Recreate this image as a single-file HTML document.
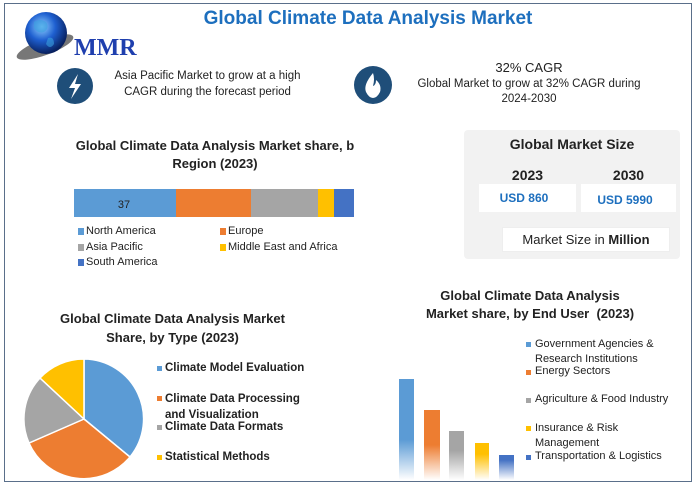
<!DOCTYPE html>
<html><head><meta charset="utf-8"><style>
body{margin:0;background:#fff;}
#c{position:relative;width:693px;height:494px;overflow:hidden;font-family:"Liberation Sans",sans-serif;color:#222;}
.a{position:absolute;}
.t{white-space:nowrap;}
</style></head><body><div id="c">
<div class="a" style="left:4px;top:3px;width:686px;height:477px;border:1px solid #5a6f8a;"></div>
<svg class="a" style="left:0;top:0" width="693" height="494">
<defs>
<radialGradient id="g" cx="40%" cy="35%" r="65%"><stop offset="0" stop-color="#8fd0ff"/><stop offset="0.5" stop-color="#1e5fd0"/><stop offset="1" stop-color="#08205e"/></radialGradient>
<linearGradient id="b1" x1="0" y1="0" x2="0" y2="1"><stop offset="0.6" stop-color="#5b9bd5"/><stop offset="1" stop-color="#fff"/></linearGradient>
<linearGradient id="b2" x1="0" y1="0" x2="0" y2="1"><stop offset="0.5" stop-color="#ed7d31"/><stop offset="1" stop-color="#fff"/></linearGradient>
<linearGradient id="b3" x1="0" y1="0" x2="0" y2="1"><stop offset="0.4" stop-color="#a5a5a5"/><stop offset="1" stop-color="#fff"/></linearGradient>
<linearGradient id="b4" x1="0" y1="0" x2="0" y2="1"><stop offset="0.3" stop-color="#ffc000"/><stop offset="1" stop-color="#fff"/></linearGradient>
<linearGradient id="b5" x1="0" y1="0" x2="0" y2="1"><stop offset="0.2" stop-color="#4472c4"/><stop offset="1" stop-color="#fff"/></linearGradient>
</defs>
<ellipse cx="45" cy="47" rx="30" ry="8" fill="#777" transform="rotate(-20 45 47)"/>
<circle cx="46" cy="33" r="21" fill="url(#g)"/>
<path d="M34 22 q6-4 12 0 q4 6-2 10 q-6 2-10-4z M48 38 q6-2 6 6 q-4 6-8 0z" fill="#3aa0e0" opacity="0.6"/>
<text x="74" y="55" font-family="Liberation Serif,serif" font-weight="bold" font-size="24" fill="#1f3fae">MMR</text>
<circle cx="75" cy="86" r="18" fill="#1f4e79"/>
<path d="M78 74 L69 88 L75 88 L71 99 L81 84 L75 84 Z" fill="#fff"/>
<circle cx="373" cy="85" r="19" fill="#1f4e79"/>
<path d="M373 73 q-10 12-7 19 q3 6 7 6 q4 0 7-6 q2-7-4-12 q0 5-3 6 q2-7 0-13z" fill="#fff"/>
<rect x="74" y="189" width="102" height="28" fill="#5b9bd5"/>
<rect x="176" y="189" width="75" height="28" fill="#ed7d31"/>
<rect x="251" y="189" width="67" height="28" fill="#a5a5a5"/>
<rect x="318" y="189" width="16" height="28" fill="#ffc000"/>
<rect x="334" y="189" width="20" height="28" fill="#4472c4"/>
<text x="124" y="208" font-size="11" text-anchor="middle" fill="#222">37</text>
<rect x="78" y="228" width="6" height="7" fill="#5b9bd5"/><rect x="220" y="228" width="6" height="7" fill="#ed7d31"/>
<rect x="78" y="244" width="6" height="7" fill="#a5a5a5"/><rect x="220" y="244" width="6" height="7" fill="#ffc000"/>
<rect x="78" y="259" width="6" height="7" fill="#4472c4"/>
<path d="M84 419 L84 359 A60 60 0 0 1 130 457 Z" fill="#5b9bd5" stroke="#fff" stroke-width="1.5"/>
<path d="M84 419 L130 457 A60 60 0 0 1 29 443 Z" fill="#ed7d31" stroke="#fff" stroke-width="1.5"/>
<path d="M84 419 L29 443 A60 60 0 0 1 40 378 Z" fill="#a5a5a5" stroke="#fff" stroke-width="1.5"/>
<path d="M84 419 L40 378 A60 60 0 0 1 84 359 Z" fill="#ffc000" stroke="#fff" stroke-width="1.5"/>
<rect x="157" y="366" width="5" height="5" fill="#5b9bd5"/>
<rect x="157" y="396" width="5" height="5" fill="#ed7d31"/>
<rect x="157" y="425" width="5" height="5" fill="#a5a5a5"/>
<rect x="157" y="455" width="5" height="5" fill="#ffc000"/>
<rect x="399" y="379" width="15" height="101" fill="url(#b1)"/>
<rect x="424" y="410" width="16" height="70" fill="url(#b2)"/>
<rect x="449" y="431" width="15" height="49" fill="url(#b3)"/>
<rect x="475" y="443" width="14" height="37" fill="url(#b4)"/>
<rect x="499" y="455" width="15" height="25" fill="url(#b5)"/>
<rect x="526" y="342" width="5" height="5" fill="#5b9bd5"/>
<rect x="526" y="370" width="5" height="5" fill="#ed7d31"/>
<rect x="526" y="398" width="5" height="5" fill="#a5a5a5"/>
<rect x="526" y="426" width="5" height="5" fill="#ffc000"/>
<rect x="526" y="455" width="5" height="5" fill="#4472c4"/>
</svg>
<div class="a t" style="left:0;width:736px;top:8px;text-align:center;font-size:19px;font-weight:bold;color:#1d6fbe;">Global Climate Data Analysis Market</div>
<div class="a" style="left:100px;width:215px;top:68px;text-align:center;font-size:11.5px;line-height:16px;">Asia Pacific Market to grow at a high CAGR during the forecast period</div>
<div class="a t" style="left:400px;width:258px;top:60px;text-align:center;font-size:11.5px;line-height:15px;"><span style="font-size:13px;">32% CAGR</span><br>Global Market to grow at 32% CAGR during<br>2024-2030</div>
<div class="a" style="left:70px;width:290px;top:137px;text-align:center;font-size:13px;font-weight:bold;line-height:18px;">Global Climate Data Analysis Market share, b<br>Region (2023)</div>
<div class="a t" style="left:86px;top:224px;font-size:11px;line-height:15.5px;">North America<br>Asia Pacific<br>South America</div>
<div class="a t" style="left:228px;top:224px;font-size:11px;line-height:15.5px;">Europe<br>Middle East and Africa</div>
<div class="a" style="left:464px;top:130px;width:216px;height:129px;background:#f2f2f2;border-radius:4px;"></div>
<div class="a t" style="left:464px;width:216px;top:136px;text-align:center;font-size:14px;font-weight:bold;">Global Market Size</div>
<div class="a t" style="left:479px;width:97px;top:167px;text-align:center;font-size:14px;font-weight:bold;">2023</div>
<div class="a t" style="left:581px;width:95px;top:167px;text-align:center;font-size:14px;font-weight:bold;">2030</div>
<div class="a" style="left:479px;top:184px;width:97px;height:28px;background:#fff;"></div>
<div class="a" style="left:581px;top:184px;width:95px;height:28px;background:#fff;"></div>
<div class="a t" style="left:479px;width:90px;top:191px;text-align:center;font-size:12px;font-weight:bold;color:#1d6fbe;">USD 860</div>
<div class="a t" style="left:581px;width:88px;top:193px;text-align:center;font-size:12px;font-weight:bold;color:#1d6fbe;">USD 5990</div>
<div class="a" style="left:502px;top:227px;width:168px;height:25px;background:#fff;border:1px solid #eee;box-sizing:border-box;"></div>
<div class="a t" style="left:502px;width:168px;top:232px;text-align:center;font-size:13px;">Market Size in <b>Million</b></div>
<div class="a" style="left:50px;width:245px;top:309px;text-align:center;font-size:13px;font-weight:bold;line-height:19px;">Global Climate Data Analysis Market<br>Share, by Type (2023)</div>
<div class="a t" style="left:165px;top:361px;font-size:11.5px;font-weight:bold;line-height:15px;">Climate Model Evaluation</div>
<div class="a t" style="left:165px;top:391px;font-size:11.5px;font-weight:bold;line-height:16px;">Climate Data Processing<br>and Visualization</div>
<div class="a t" style="left:165px;top:420px;font-size:11.5px;font-weight:bold;line-height:15px;">Climate Data Formats</div>
<div class="a t" style="left:165px;top:450px;font-size:11.5px;font-weight:bold;line-height:15px;">Statistical Methods</div>
<div class="a" style="left:395px;width:270px;top:287px;text-align:center;font-size:13px;font-weight:bold;line-height:18px;">Global Climate Data Analysis<br>Market share, by End User&nbsp; (2023)</div>
<div class="a t" style="left:535px;top:337px;font-size:11px;line-height:14.5px;">Government Agencies &amp;<br>Research Institutions</div>
<div class="a t" style="left:535px;top:365px;font-size:11px;">Energy Sectors</div>
<div class="a t" style="left:535px;top:393px;font-size:11px;">Agriculture &amp; Food Industry</div>
<div class="a t" style="left:535px;top:421px;font-size:11px;line-height:14.5px;">Insurance &amp; Risk<br>Management</div>
<div class="a t" style="left:535px;top:450px;font-size:11px;">Transportation &amp; Logistics</div>
</div></body></html>
